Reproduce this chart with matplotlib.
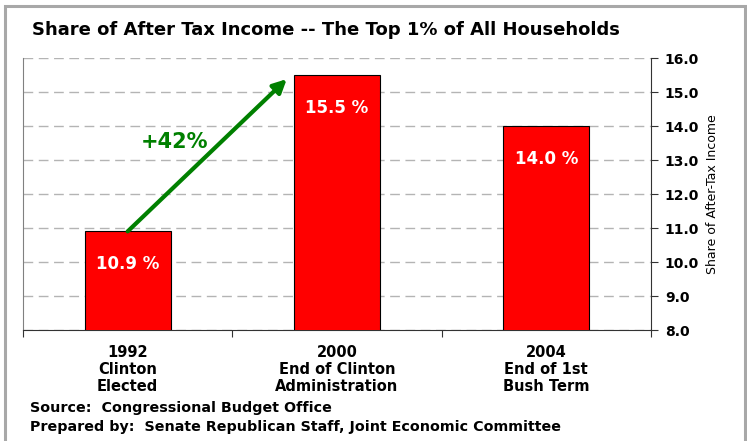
import numpy as np
import matplotlib
matplotlib.use('Agg')
import matplotlib.pyplot as plt
from matplotlib.patches import Rectangle

# share of after-tax income going to the top 1% of households
years = ['1992', '2000', '2004']
events = ['Clinton\nElected', 'End of Clinton\nAdministration', 'End of 1st\nBush Term']
share = [10.9, 15.5, 14.0]
change_label = '+42%'
yticks = np.arange(8.0, 16.01, 1.0)

fig = plt.figure(figsize=(7.47, 4.41), dpi=100)
ax = fig.add_axes([23/747., 1-330/441., 628/747., 272/441.])

x = np.arange(len(share))
ax.bar(x, share, width=0.41, color='#ff0000', edgecolor='black', linewidth=0.8,
       bottom=0, zorder=3)
ax.set_xlim(-0.5, len(share)-0.5)
ax.set_ylim(8.0, 16.0)

# value labels inside the bars
for xi, v in zip(x, share):
    ax.text(xi, v-0.97, '%.1f %%' % v, ha='center', va='center', color='white',
            fontsize=12, fontweight='bold', zorder=4)

# growth arrow from the 1992 bar towards the 2000 bar
ax.annotate('', xy=(0.76, 15.38), xytext=(0, share[0]),
            arrowprops=dict(arrowstyle='-|>', color='#008000', lw=3.0,
                            mutation_scale=20, shrinkA=0, shrinkB=0), zorder=5)
ax.text(0.225, 13.53, change_label, ha='center', va='center', color='#008000',
        fontsize=15, fontweight='bold', zorder=5)

# value axis on the right
ax.yaxis.tick_right()
ax.yaxis.set_label_position('right')
ax.set_yticks(yticks)
ax.set_yticklabels(['%.1f' % t for t in yticks], fontsize=10, fontweight='bold')
ax.tick_params(axis='y', direction='out', length=5, width=0.8, pad=5, color='#333333')
ax.set_ylabel('Share of After-Tax Income', fontsize=9, labelpad=5)
ax.grid(axis='y', color='#b4b4b4', linestyle=(0, (7, 4)), linewidth=1.0, zorder=1)

# category labels between the separator ticks
ax.set_xticks(np.arange(-0.5, len(share)), minor=False)
ax.set_xticklabels([])
ax.set_xticks(x, minor=True)
ax.set_xticklabels([y + '\n' + e for y, e in zip(years, events)], minor=True,
                   fontsize=10.5, fontweight='bold', linespacing=1.15)
ax.tick_params(axis='x', which='major', direction='out', length=5, width=0.8,
               color='#333333')
ax.tick_params(axis='x', which='minor', length=0, pad=11)

ax.spines['top'].set_visible(False)
ax.spines['left'].set_color('#808080')
ax.spines['left'].set_linewidth(0.8)
ax.spines['right'].set_color('#333333')
ax.spines['right'].set_linewidth(0.8)
ax.spines['bottom'].set_color('#333333')
ax.spines['bottom'].set_linewidth(0.8)

fig.text(32/747., 1-35/441., 'Share of After Tax Income -- The Top 1% of All Households',
         ha='left', va='baseline', fontsize=13, fontweight='bold')
fig.text(30/747., 1-412/441., 'Source:  Congressional Budget Office',
         ha='left', va='baseline', fontsize=10.3, fontweight='bold')
fig.text(30/747., 1-431/441., 'Prepared by:  Senate Republican Staff, Joint Economic Committee',
         ha='left', va='baseline', fontsize=10.3, fontweight='bold')

# gray frame, open at the bottom
frame = Rectangle((4.5/747., -0.05), 740/747., 1.05-6/441., transform=fig.transFigure,
                  fill=False, edgecolor='#a8a8a8', linewidth=2.2, clip_on=False)
fig.patches.append(frame)

plt.savefig('out.png', dpi=100)
plt.close()
